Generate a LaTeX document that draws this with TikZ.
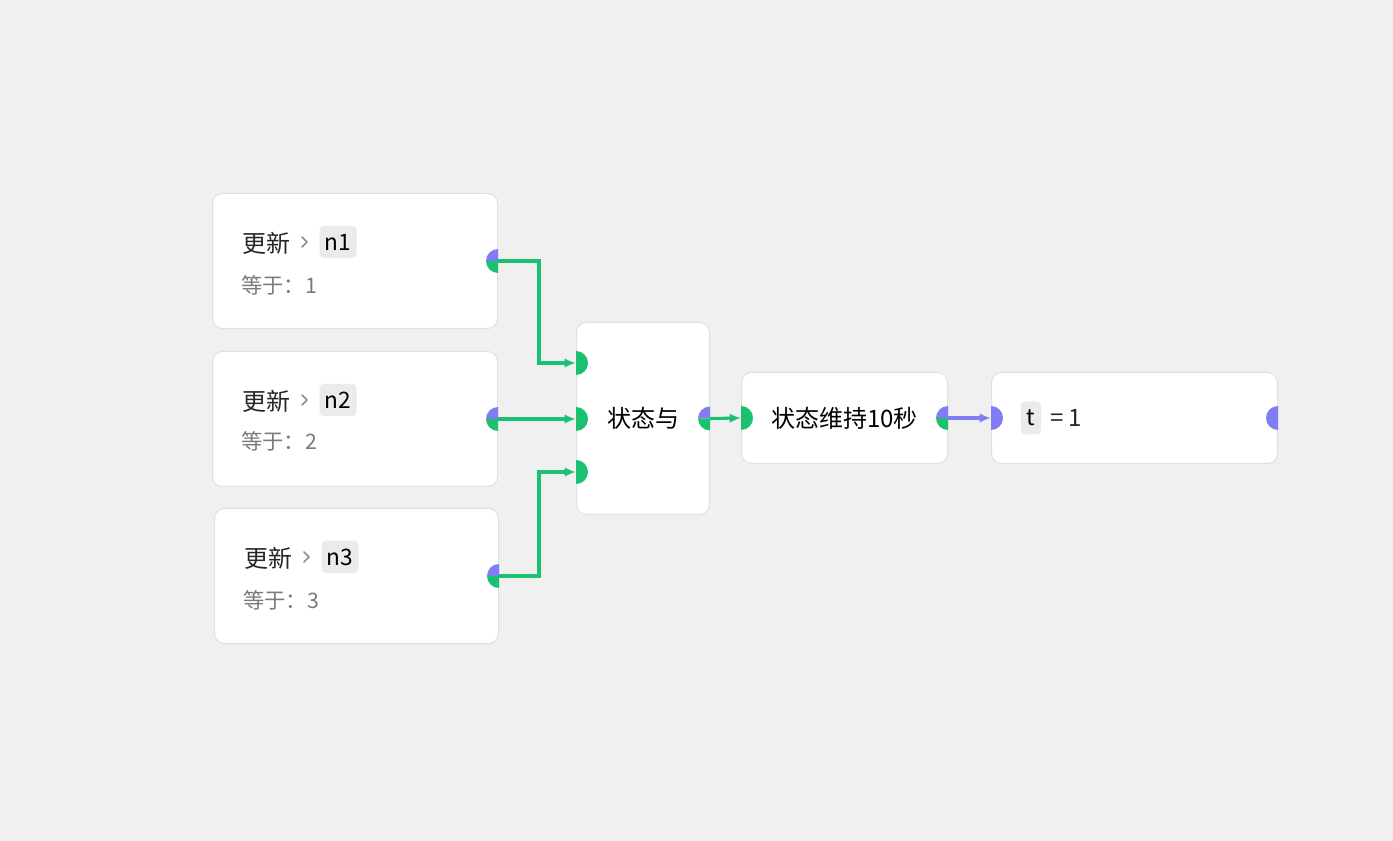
\documentclass[tikz,border=0pt]{standalone}
\usepackage{fontspec}
\setmainfont{Noto Sans CJK SC}
\usetikzlibrary{arrows.meta}

\definecolor{bggray}{HTML}{F0F0F0}
\definecolor{cardline}{HTML}{E0E0E0}
\definecolor{taggray}{HTML}{EBEBEB}
\definecolor{subgray}{HTML}{7A7A7A}
\definecolor{portgreen}{HTML}{1BC071}
\definecolor{portpurple}{HTML}{817CF4}

\newcommand{\pxu}{0.75pt}
% half ports: output (purple over green), input (right half), last (left half)
\newcommand{\outport}[1]{%
    \fill[portpurple] (#1) -- ++(-12,0) arc (180:270:12) -- cycle;
    \fill[portgreen] (#1) -- ++(-12,0) arc (180:90:12) -- cycle;}
\newcommand{\inport}[2]{\fill[#2] (#1) ++(0,-12) arc (270:450:12) -- cycle;}
\newcommand{\lastport}[2]{\fill[#2] (#1) ++(0,-12) arc (270:90:12) -- cycle;}
% small chevron after the action name
\newcommand{\chevron}[1]{\draw[chev] (#1) ++(-3,-5) -- ++(5,5) -- ++(-5,5);}

\begin{document}
\begin{tikzpicture}[x=0.75pt, y=-0.75pt,
    card/.style={draw=cardline, line width=0.75pt, fill=white, rounded corners=7.5pt,
        anchor=north west, inner sep=0pt, font=\fontsize{18}{20}\selectfont},
    title/.style={font=\fontsize{18}{20}\selectfont, text=black!85, inner sep=0pt, anchor=west},
    sub/.style={font=\fontsize{16}{18}\selectfont, text=subgray, inner sep=0pt, anchor=west},
    tag/.style={fill=taggray, rounded corners=3pt, inner sep=0pt, minimum width=37*\pxu,
        minimum height=32*\pxu, font=\fontsize{17}{20}\selectfont},
    chev/.style={draw=black!45, line width=1.3pt, line cap=round, line join=round},
    wire/.style={portgreen, line width=2.3pt, -{Latex[length=8.5pt,width=7pt]}},
    ]
    \fill[bggray] (0,0) rectangle (1393,841);
    \useasboundingbox (0,0) rectangle (1393,841);

    % update cards
    \node[card, minimum width=285*\pxu, minimum height=135*\pxu] (upd1) at (212,193) {};
    \node[card, minimum width=285*\pxu, minimum height=135*\pxu] (upd2) at (212,351) {};
    \node[card, minimum width=284*\pxu, minimum height=135*\pxu] (upd3) at (214,508) {};

    \node[title] (upd1t) at (242,243) {更新};
    \coordinate (upd1c) at (305,242);
    \node[tag] (upd1v) at (338,242) {n1};
    \node[sub] (upd1s) at (241,285) {等于：1};

    \node[title] (upd2t) at (242,401) {更新};
    \coordinate (upd2c) at (305,400);
    \node[tag] (upd2v) at (338,400) {n2};
    \node[sub] (upd2s) at (241,441) {等于：2};

    \node[title] (upd3t) at (244,558) {更新};
    \coordinate (upd3c) at (307,557);
    \node[tag] (upd3v) at (340,557) {n3};
    \node[sub] (upd3s) at (243,600) {等于：3};

    \chevron{upd1c}
    \chevron{upd2c}
    \chevron{upd3c}

    % and, hold, set
    \node[card, minimum width=133*\pxu, minimum height=192*\pxu] (and) at (576,322) {状态与};
    \node[card, minimum width=206*\pxu, minimum height=91*\pxu] (hold) at (741,372) {状态维持10秒};
    \node[card, minimum width=286*\pxu, minimum height=91*\pxu] (set) at (991,372) {};
    \node[tag, minimum width=20*\pxu, minimum height=33*\pxu] (setv) at (1031,418) {t};
    \node[title] (sett) at (1050,418) {= 1};

    \coordinate (andin1) at (576,363);
    \coordinate (andin2) at (upd2.east -| and.west);
    \coordinate (andin3) at (576,472);

    % wires
    \draw[wire] (upd1.east) -- ++(41,0) |- (andin1);
    \draw[wire] (upd2.east) -- (andin2);
    \draw[wire] (upd3.east) -- ++(40,0) |- (andin3);
    \draw[wire] (and.east) -- (hold.west);
    \draw[wire, portpurple] (hold.east) -- (set.west);

    % ports
    \outport{upd1.east}
    \outport{upd2.east}
    \outport{upd3.east}
    \inport{andin1}{portgreen}
    \inport{andin2}{portgreen}
    \inport{andin3}{portgreen}
    \outport{and.east}
    \inport{hold.west}{portgreen}
    \outport{hold.east}
    \inport{set.west}{portpurple}
    \lastport{set.east}{portpurple}
\end{tikzpicture}
\end{document}
